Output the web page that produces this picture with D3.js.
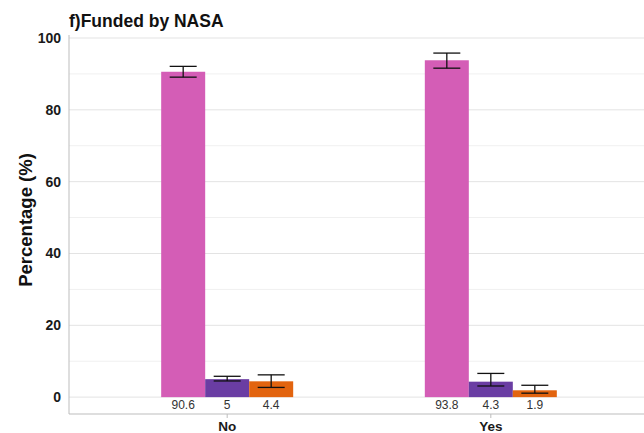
<!DOCTYPE html>
<html><head><meta charset="utf-8">
<script src="https://cdn.jsdelivr.net/npm/d3@7"></script>
<style>body{margin:0;background:#fff}svg{display:block}text{font-family:"Liberation Sans",Arial,sans-serif}</style>
</head><body><svg id="c" width="644" height="433"></svg>
<script>
const categories = ["No", "Yes"];
const seriesNames = ["s1", "s2", "s3"];
const seriesColors = ["#D45DB6", "#6A3DA3", "#E2640F"];
const values = [[90.6, 5, 4.4], [93.8, 4.3, 1.9]];
const errLow = [[89.1, 4.5, 2.7], [91.6, 3.1, 1.1]];
const errHigh = [[92.1, 5.8, 6.2], [95.8, 6.6, 3.3]];
const yTicks = [0, 20, 40, 60, 80, 100];
const yMinor = [10, 30, 50, 70, 90];

const svg = d3.select("#c");
const L = 69, R = 649, T = 38, B = 414;
const y = d3.scaleLinear().domain([-4.7, 100]).range([B, T]);
const x = d3.scaleLinear().domain([0.4, 2.6]).range([L, R]);
const xs = d3.scaleBand().domain(categories).range([x(0.5), x(2.5)]).padding(0);
const barW = 44;
const inner = d3.scaleBand().domain(seriesNames).range([0, barW*3]);

// gridlines
svg.append("g").selectAll("line").data(yMinor).join("line")
  .attr("x1", L).attr("x2", 644).attr("y1", d=>y(d)).attr("y2", d=>y(d))
  .attr("stroke", "#f0f0f0").attr("stroke-width", 1);
svg.append("g").selectAll("line").data(yTicks).join("line")
  .attr("x1", L).attr("x2", 644).attr("y1", d=>y(d)).attr("y2", d=>y(d))
  .attr("stroke", "#e3e3e3").attr("stroke-width", 1);

// axes lines
svg.append("line").attr("x1", L).attr("x2", L).attr("y1", T-3).attr("y2", B).attr("stroke", "#bdbdbd");
svg.append("line").attr("x1", L).attr("x2", 644).attr("y1", B).attr("y2", B).attr("stroke", "#bdbdbd");

// y tick labels
svg.append("g").selectAll("text").data(yTicks).join("text")
  .attr("x", L-8).attr("y", d=>y(d)).attr("dy", "0.35em").attr("text-anchor", "end")
  .attr("font-size", 14).attr("font-weight", "bold").attr("fill", "#1a1a1a").text(d=>d);

// x ticks & labels
const xc = d => xs(d) + xs.bandwidth()/2;
svg.append("g").selectAll("line").data(categories).join("line")
  .attr("x1", xc).attr("x2", xc).attr("y1", B).attr("y2", B+4).attr("stroke", "#bdbdbd");
svg.append("g").selectAll("text").data(categories).join("text")
  .attr("x", xc).attr("y", 431).attr("text-anchor", "middle")
  .attr("font-size", 13.5).attr("font-weight", "bold").attr("fill", "#1a1a1a").text(d=>d);

// bars
categories.forEach((cat, ci) => {
  const g = svg.append("g").attr("transform", `translate(${xc(cat) - barW*1.5},0)`);
  seriesNames.forEach((s, si) => {
    const v = values[ci][si];
    const bx = inner(s);
    g.append("rect").attr("x", bx).attr("width", inner.bandwidth())
      .attr("y", y(v)).attr("height", y(0) - y(v)).attr("fill", seriesColors[si]);
  });
  seriesNames.forEach((s, si) => {
    const cx = inner(s) + inner.bandwidth()/2;
    const lo = y(errLow[ci][si]), hi = y(errHigh[ci][si]);
    const ew = 13.5;
    const eg = g.append("g").attr("stroke", "#111").attr("stroke-width", 1.3);
    eg.append("line").attr("x1", cx).attr("x2", cx).attr("y1", lo).attr("y2", hi);
    eg.append("line").attr("x1", cx-ew).attr("x2", cx+ew).attr("y1", lo).attr("y2", lo);
    eg.append("line").attr("x1", cx-ew).attr("x2", cx+ew).attr("y1", hi).attr("y2", hi);
    g.append("text").attr("x", cx).attr("y", y(0) + 12).attr("text-anchor", "middle")
      .attr("font-size", 12).attr("fill", "#333").text(values[ci][si]);
  });
});

// titles
svg.append("text").attr("x", L).attr("y", 27).attr("font-size", 17.5).attr("font-weight", "bold")
  .attr("fill", "#111").text("f)Funded by NASA");
svg.append("text").attr("transform", `translate(32,220) rotate(-90)`)
  .attr("text-anchor", "middle").attr("font-size", 18.5).attr("font-weight", "bold")
  .attr("fill", "#111").text("Percentage (%)");
</script></body></html>
